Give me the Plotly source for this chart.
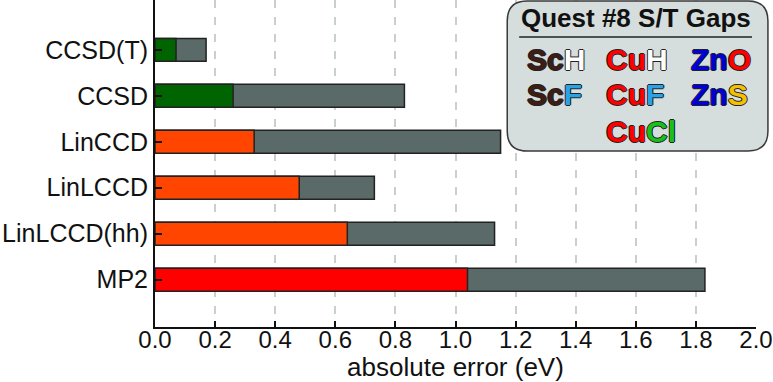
import plotly.graph_objects as go

methods = ["CCSD(T)", "CCSD", "LinCCD", "LinLCCD", "LinLCCD(hh)", "MP2"]
mean_err = [0.07, 0.26, 0.33, 0.48, 0.64, 1.04]
max_err = [0.17, 0.83, 1.15, 0.73, 1.13, 1.83]
bar_colors = ["#006400", "#006400", "#ff4500", "#ff4500", "#ff4500", "#ff0000"]
gray = "#596a68"
x_ticks = [0.0, 0.2, 0.4, 0.6, 0.8, 1.0, 1.2, 1.4, 1.6, 1.8, 2.0]

FONT = "Liberation Sans, Arial, Helvetica, sans-serif"
W, H = 773, 382
ML, MR, MT, MB = 155, 14, 0, 55
PW, PH = W - ML - MR, H - MT - MB

def px(x):
    return (x - ML) / PW

def py(y):
    return (H - MB - y) / PH

fig = go.Figure()
fig.add_trace(go.Bar(
    y=methods, x=max_err, orientation="h", width=0.5,
    marker=dict(color=gray, line=dict(color="#222222", width=1.5)),
    hoverinfo="x+y", showlegend=False))
fig.add_trace(go.Bar(
    y=methods, x=mean_err, orientation="h", width=0.5,
    marker=dict(color=bar_colors, line=dict(color="#222222", width=1.5)),
    hoverinfo="x+y", showlegend=False))

# legend box (rounded rectangle)
x0, x1, y0, y1, r = 509, 771, 1, 151, 20
path = (f"M {px(x0+r)} {py(y0)} L {px(x1-r)} {py(y0)} "
        f"Q {px(x1)} {py(y0)} {px(x1)} {py(y0+r)} L {px(x1)} {py(y1-r)} "
        f"Q {px(x1)} {py(y1)} {px(x1-r)} {py(y1)} L {px(x0+r)} {py(y1)} "
        f"Q {px(x0)} {py(y1)} {px(x0)} {py(y1-r)} L {px(x0)} {py(y0+r)} "
        f"Q {px(x0)} {py(y0)} {px(x0+r)} {py(y0)} Z")
shapes = [
    dict(type="path", path=path, xref="paper", yref="paper",
         fillcolor="#d6dddd", line=dict(color="#3a3a3a", width=1.5), layer="above"),
    dict(type="line", xref="paper", yref="paper", x0=px(521), x1=px(755),
         y0=py(37), y1=py(37), line=dict(color="#222222", width=1.5), layer="above"),
]

annotations = [dict(text="<b>Quest #8 S/T Gaps</b>", xref="paper", yref="paper",
                    x=px(638), y=py(18), xanchor="center", yanchor="middle",
                    showarrow=False, font=dict(family=FONT, size=26, color="#111111"))]

def sp(t, c):
    return f"<span style='color:{c}'>{t}</span>"

SC, CU, ZN = "#3d1d14", "#ff0000", "#0000dd"
mols = [
    (527, 59, sp("Sc", SC) + sp("H", "#ffffff")),
    (527, 94, sp("Sc", SC) + sp("F", "#2aa2e6")),
    (606, 59, sp("Cu", CU) + sp("H", "#ffffff")),
    (606, 94, sp("Cu", CU) + sp("F", "#2aa2e6")),
    (606, 131, sp("Cu", CU) + sp("Cl", "#19c019")),
    (692, 59, sp("Zn", ZN) + sp("O", "#ff0000")),
    (692, 94, sp("Zn", ZN) + sp("S", "#f5c000")),
]
shadow = ("1px 0 0 #222, -1px 0 0 #222, 0 1px 0 #222, 0 -1px 0 #222")
for x, y, t in mols:
    annotations.append(dict(text=f"<b>{t}</b>", xref="paper", yref="paper",
                            x=px(x), y=py(y), xanchor="left", yanchor="middle",
                            showarrow=False,
                            font=dict(family=FONT, size=30, shadow=shadow)))

fig.update_layout(
    width=W, height=H, margin=dict(l=ML, r=MR, t=MT, b=MB),
    paper_bgcolor="white", plot_bgcolor="white", barmode="overlay",
    font=dict(family=FONT, size=25, color="#111111"),
    shapes=shapes, annotations=annotations,
    xaxis=dict(range=[0, 2.0], tickvals=x_ticks,
               ticktext=[f"{v:.1f}" for v in x_ticks],
               ticks="inside", ticklen=6, tickwidth=2, tickcolor="#111111",
               ticklabeloverflow="allow", ticklabelstandoff=-10,
               showline=True, linecolor="#111111", linewidth=2,
               showgrid=True, gridcolor="#c7d0cf", gridwidth=2,
               griddash="8px,9px", zeroline=False,
               title=dict(text="absolute error (eV)", standoff=5,
                          font=dict(size=26)),
               tickfont=dict(size=24)),
    yaxis=dict(type="category", categoryarray=methods,
               range=[6.03, -1.085], ticks="inside", ticklen=7, tickwidth=2,
               tickcolor="#111111", showline=True, linecolor="#111111",
               linewidth=2, showgrid=False, zeroline=False,
               tickfont=dict(size=25)),
)

fig.write_html("out.html")
